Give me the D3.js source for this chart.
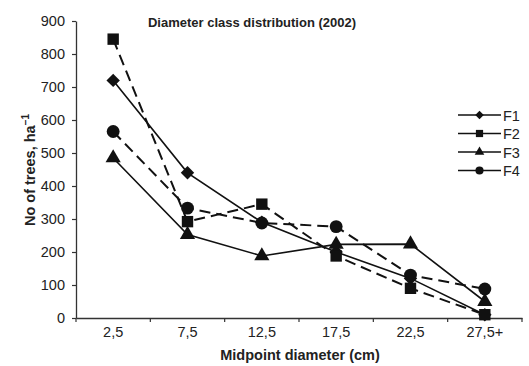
<!DOCTYPE html>
<html lang="en">
<head>
<meta charset="utf-8">
<title>Diameter class distribution</title>
<script src="https://cdn.jsdelivr.net/npm/d3@7"></script>
<style>
  body { margin: 0; background: #fff; }
  svg text { font-family: "Liberation Sans", Arial, sans-serif; fill: #222; }
</style>
</head>
<body>
<div id="chart"></div>
<script>
// data
var categories = ["2,5", "7,5", "12,5", "17,5", "22,5", "27,5+"];
var f1 = [720, 440, 290, 200, 120, 10];
var f2 = [845, 292, 345, 188, 90, 10];
var f3 = [485, 253, 188, 223, 224, 50];
var f4 = [565, 333, 288, 277, 130, 88];
var yTicks = [0, 100, 200, 300, 400, 500, 600, 700, 800, 900];

// diamond = square turned 45 degrees
var series = [
  {name: "F1", values: f1, symbol: d3.symbolSquare, rot: 45, dashed: false, size: 90},
  {name: "F2", values: f2, symbol: d3.symbolSquare, rot: 0, dashed: true, size: 130},
  {name: "F3", values: f3, symbol: d3.symbolTriangle, rot: 0, dashed: false, size: 100},
  {name: "F4", values: f4, symbol: d3.symbolCircle, rot: 0, dashed: true, size: 130}
];

var width = 529, height = 366;
var margin = {top: 21, right: 7, bottom: 48, left: 76};

var svg = d3.select("#chart").append("svg")
  .attr("width", width)
  .attr("height", height);

var x = d3.scaleBand()
  .domain(categories)
  .range([margin.left, width - margin.right]);

var y = d3.scaleLinear()
  .domain([0, 900])
  .range([height - margin.bottom, margin.top]);

// axes
var xAxis = svg.append("g")
  .attr("transform", "translate(0," + (height - margin.bottom) + ")")
  .call(d3.axisBottom(x).tickSize(0).tickPadding(9));
xAxis.select(".domain").attr("stroke", "#333").attr("stroke-width", 1.3);
xAxis.selectAll("text").style("font-size", "14.5px").attr("fill", "#222");
// tick marks sit on band edges
xAxis.selectAll(".edge")
  .data(categories.concat(["end"]))
  .enter().append("line")
  .attr("x1", function(d, i) { return margin.left + i * x.step(); })
  .attr("x2", function(d, i) { return margin.left + i * x.step(); })
  .attr("y1", 0).attr("y2", 4)
  .attr("stroke", "#333").attr("stroke-width", 1.2);

var yAxis = svg.append("g")
  .attr("transform", "translate(" + margin.left + ",0)")
  .call(d3.axisLeft(y).tickValues(yTicks).tickSize(4).tickSizeOuter(0).tickPadding(7));
yAxis.select(".domain").attr("stroke", "#333").attr("stroke-width", 1.3);
yAxis.selectAll("line").attr("stroke", "#333").attr("stroke-width", 1.2);
yAxis.selectAll("text").style("font-size", "14.5px").attr("fill", "#222");

// series
var line = d3.line()
  .x(function(d, i) { return x(categories[i]) + x.bandwidth() / 2; })
  .y(function(d) { return y(d); });

series.forEach(function(s) {
  svg.append("path")
    .datum(s.values)
    .attr("d", line)
    .attr("fill", "none")
    .attr("stroke", "#111")
    .attr("stroke-width", s.dashed ? 2 : 1.6)
    .attr("stroke-dasharray", s.dashed ? "11,6" : null);

  svg.selectAll(".m-" + s.name)
    .data(s.values)
    .enter().append("path")
    .attr("d", d3.symbol().type(s.symbol).size(s.size))
    .attr("transform", function(d, i) {
      return "translate(" + (x(categories[i]) + x.bandwidth() / 2) + "," + y(d) + ") rotate(" + s.rot + ")";
    })
    .attr("fill", "#111");
});

// legend
var legend = svg.append("g").attr("transform", "translate(458,115)");
series.forEach(function(s, i) {
  var g = legend.append("g").attr("transform", "translate(0," + (i * 18.5) + ")");
  g.append("line")
    .attr("x1", 0).attr("x2", 43)
    .attr("y1", 0).attr("y2", 0)
    .attr("stroke", "#111").attr("stroke-width", 1.5);
  g.append("path")
    .attr("d", d3.symbol().type(s.symbol).size(s.size * 0.4))
    .attr("transform", "translate(21.5,0) rotate(" + s.rot + ")")
    .attr("fill", "#111");
  g.append("text")
    .attr("x", 45).attr("y", 5.5)
    .style("font-size", "14.5px")
    .text(s.name);
});

// title and axis labels
svg.append("text")
  .attr("x", 252).attr("y", 27)
  .attr("text-anchor", "middle")
  .style("font-size", "13px")
  .style("font-weight", "bold")
  .text("Diameter class distribution (2002)");

svg.append("text")
  .attr("x", 300).attr("y", 360)
  .attr("text-anchor", "middle")
  .style("font-size", "14.5px")
  .style("font-weight", "bold")
  .text("Midpoint diameter (cm)");

var yl = svg.append("text")
  .attr("transform", "translate(35,170) rotate(-90)")
  .attr("text-anchor", "middle")
  .style("font-size", "14.5px")
  .style("font-weight", "bold");
yl.append("tspan").text("No of trees, ha");
yl.append("tspan").attr("dy", -6).style("font-size", "10px").text("\u22121");
</script>
</body>
</html>
